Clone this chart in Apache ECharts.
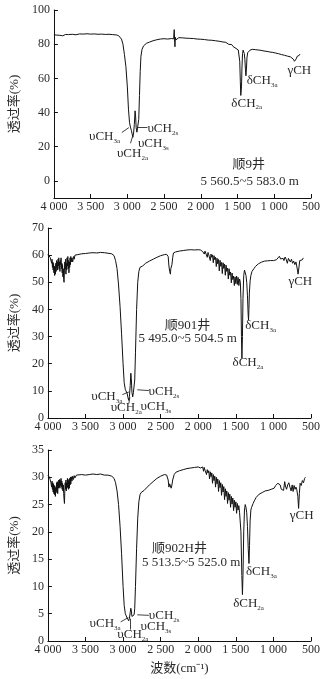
<!DOCTYPE html>
<html><head><meta charset="utf-8">
<script src="https://cdn.jsdelivr.net/npm/echarts@6/dist/echarts.min.js"></script>
<style>html,body{margin:0;padding:0;background:#fff}#c{width:327px;height:679px}</style>
</head><body><div id="c"></div>
<script>
// ---- data: [wavenumber cm-1, transmittance %] ----
const spectrum1 = [[4000,85.5],[3980,85.8],[3960,85.3],[3940,85.6],[3920,85.2],[3900,85.4],[3880,84.9],[3860,85.5],[3840,85.7],[3820,85.3],[3800,85.6],[3750,85.8],[3700,85.5],[3650,86.0],[3600,85.9],[3550,86.1],[3500,85.9],[3450,86.0],[3400,85.8],[3350,85.9],[3300,85.7],[3250,85.8],[3200,85.6],[3150,85.4],[3120,85.0],[3100,84.5],[3080,83.0],[3060,80.0],[3040,74.0],[3020,67.0],[3000,55.0],[2985,42.0],[2970,34.0],[2958,31.5],[2945,29.5],[2935,27.5],[2925,25.5],[2915,28.0],[2905,33.0],[2895,41.0],[2888,38.0],[2880,31.0],[2870,28.5],[2860,31.5],[2853,30.5],[2845,36.0],[2835,50.0],[2825,64.0],[2815,73.0],[2800,77.0],[2780,79.0],[2760,80.0],[2740,80.5],[2700,81.2],[2650,82.0],[2600,82.6],[2550,83.0],[2500,83.2],[2450,83.0],[2400,83.3],[2370,83.1],[2362,88.5],[2357,82.5],[2352,78.5],[2347,84.0],[2340,82.5],[2335,83.3],[2320,83.6],[2300,83.8],[2250,83.7],[2200,83.5],[2150,83.4],[2100,83.3],[2050,83.0],[2000,82.9],[1950,82.7],[1900,82.4],[1850,82.3],[1800,82.0],[1750,81.7],[1700,81.3],[1680,80.8],[1660,81.1],[1640,80.3],[1620,79.9],[1600,79.2],[1580,79.8],[1560,78.6],[1540,78.9],[1520,77.5],[1500,77.0],[1490,76.6],[1480,75.5],[1470,70.0],[1462,58.0],[1456,50.0],[1451,49.0],[1446,55.0],[1440,66.0],[1432,74.5],[1424,76.5],[1416,76.2],[1408,74.5],[1400,71.0],[1392,65.0],[1386,61.5],[1382,62.0],[1378,66.0],[1372,72.0],[1362,75.0],[1350,75.7],[1330,76.5],[1300,77.0],[1280,77.3],[1260,76.8],[1240,77.2],[1220,76.6],[1200,77.0],[1180,76.4],[1160,76.8],[1140,76.0],[1120,76.3],[1100,75.8],[1080,76.1],[1060,75.4],[1040,75.8],[1020,75.2],[1000,75.5],[980,74.8],[960,75.1],[940,74.4],[920,74.6],[900,73.9],[880,74.2],[860,73.5],[840,73.7],[820,73.0],[800,73.2],[780,72.6],[760,72.0],[740,71.2],[725,70.0],[712,69.0],[700,71.5],[690,72.8],[680,72.0],[670,73.8],[660,73.5],[650,74.2],[646,74.0]];

const spectrum2 = [[4000,60.3],[3990,59.8],[3980,60.0],[3970,59.2],[3960,58.5],[3950,57.0],[3945,58.5],[3940,55.5],[3935,57.5],[3930,54.5],[3925,57.0],[3920,53.5],[3915,56.0],[3910,52.5],[3905,55.5],[3900,53.0],[3895,57.0],[3890,54.0],[3885,58.0],[3880,55.5],[3875,57.5],[3870,54.5],[3865,58.5],[3860,56.0],[3855,59.0],[3850,55.0],[3845,57.5],[3840,54.0],[3835,58.0],[3830,56.5],[3825,59.0],[3820,55.0],[3815,57.0],[3810,53.5],[3805,56.5],[3800,52.0],[3795,55.0],[3790,51.0],[3785,50.0],[3780,54.5],[3775,57.5],[3770,55.0],[3765,58.5],[3760,53.0],[3755,57.0],[3750,54.5],[3745,59.0],[3740,56.0],[3735,59.5],[3730,55.0],[3725,58.0],[3720,53.5],[3715,57.5],[3710,55.5],[3705,59.0],[3700,56.5],[3695,59.5],[3690,57.5],[3680,59.0],[3670,57.5],[3660,59.5],[3650,58.5],[3640,60.0],[3620,59.5],[3600,60.2],[3580,60.0],[3550,60.5],[3500,60.6],[3450,60.8],[3400,60.9],[3350,60.8],[3300,61.0],[3250,60.9],[3200,60.7],[3150,60.5],[3120,59.8],[3100,58.0],[3080,55.0],[3060,49.0],[3040,41.0],[3020,31.0],[3000,20.0],[2985,13.0],[2970,10.5],[2958,10.0],[2945,9.0],[2935,7.5],[2925,6.5],[2915,8.0],[2905,12.0],[2897,16.5],[2890,14.5],[2882,9.5],[2872,7.8],[2862,9.5],[2853,10.0],[2845,14.0],[2835,24.0],[2820,40.0],[2805,50.0],[2790,54.0],[2775,55.5],[2760,55.8],[2740,56.0],[2720,56.5],[2700,57.0],[2650,57.8],[2600,58.5],[2550,59.2],[2500,59.8],[2450,60.2],[2420,60.3],[2400,59.5],[2390,56.0],[2380,54.0],[2370,53.0],[2365,55.0],[2360,54.5],[2350,56.5],[2340,59.0],[2330,60.8],[2300,61.2],[2250,61.5],[2200,61.7],[2150,61.9],[2100,62.0],[2050,61.9],[2000,62.0],[1980,61.6],[1970,61.9],[1960,61.2],[1950,61.8],[1940,61.3],[1930,61.7],[1920,60.4],[1910,61.5],[1900,60.8],[1890,61.3],[1880,59.2],[1870,61.0],[1860,60.1],[1850,60.6],[1840,58.0],[1830,60.4],[1820,59.2],[1810,60.1],[1800,57.2],[1790,59.8],[1780,58.3],[1770,59.2],[1760,55.8],[1750,58.9],[1740,56.8],[1730,58.4],[1720,54.2],[1710,58.1],[1700,55.9],[1690,57.3],[1680,53.2],[1670,57.2],[1660,55.1],[1650,56.7],[1640,52.6],[1630,56.3],[1620,54.0],[1610,55.2],[1600,51.2],[1590,55.0],[1580,52.6],[1570,53.8],[1560,49.8],[1550,53.4],[1540,51.0],[1530,52.3],[1520,48.8],[1510,52.0],[1500,49.5],[1490,52.3],[1480,49.2],[1470,51.8],[1460,48.8],[1450,51.2],[1440,50.0],[1432,44.0],[1425,30.0],[1419,22.0],[1412,30.0],[1405,44.0],[1395,52.5],[1385,54.5],[1375,54.0],[1365,52.5],[1355,50.0],[1345,45.0],[1336,38.0],[1331,36.0],[1326,40.0],[1320,46.0],[1310,50.5],[1300,52.5],[1285,54.0],[1260,55.0],[1240,55.8],[1220,56.3],[1200,56.8],[1180,57.0],[1160,57.4],[1140,57.2],[1120,57.8],[1100,57.5],[1080,57.9],[1060,57.6],[1040,58.0],[1020,57.8],[1000,58.0],[980,58.6],[960,58.3],[940,59.0],[920,59.6],[905,58.6],[895,59.3],[880,58.2],[870,58.8],[860,58.0],[845,59.3],[830,58.5],[815,57.0],[800,58.8],[790,59.3],[775,57.5],[760,58.5],[745,57.0],[730,57.8],[715,56.5],[700,57.5],[690,56.0],[680,54.5],[672,53.0],[665,52.8],[658,56.0],[650,58.0],[640,57.5],[630,58.5],[620,58.2],[610,58.8],[600,59.0],[593,59.0]];

const spectrum3 = [[4000,30.4],[3990,30.2],[3980,30.0],[3970,29.6],[3960,29.0],[3950,28.2],[3945,29.3],[3940,27.8],[3935,29.0],[3930,27.3],[3925,28.8],[3920,27.0],[3915,28.5],[3910,26.8],[3905,28.3],[3900,26.5],[3895,28.0],[3890,27.2],[3885,29.0],[3880,27.5],[3875,29.2],[3870,27.0],[3865,29.0],[3860,28.0],[3855,29.5],[3850,28.2],[3845,29.6],[3840,28.0],[3835,29.4],[3830,28.5],[3825,29.8],[3820,28.2],[3815,29.3],[3810,27.8],[3805,28.9],[3800,27.5],[3795,28.6],[3790,27.0],[3785,26.0],[3780,25.2],[3775,27.5],[3770,29.0],[3765,27.8],[3760,29.5],[3755,27.5],[3750,29.0],[3745,28.0],[3740,29.8],[3735,28.2],[3730,29.6],[3725,27.8],[3720,29.3],[3715,28.0],[3710,29.8],[3705,28.6],[3700,30.0],[3695,28.8],[3690,30.1],[3680,29.3],[3670,30.2],[3660,29.6],[3650,30.3],[3640,29.9],[3620,30.4],[3600,30.2],[3550,30.5],[3500,30.4],[3450,30.5],[3400,30.6],[3350,30.5],[3300,30.6],[3250,30.4],[3200,30.4],[3150,30.2],[3120,29.8],[3100,29.0],[3080,27.5],[3060,25.0],[3040,21.0],[3020,16.0],[3000,10.0],[2985,6.5],[2970,5.0],[2958,4.6],[2945,4.2],[2935,3.9],[2925,3.7],[2915,4.2],[2905,5.2],[2897,6.0],[2890,5.5],[2882,4.5],[2872,4.2],[2862,4.6],[2853,4.8],[2845,6.0],[2835,10.0],[2820,17.0],[2805,22.5],[2790,25.5],[2775,26.8],[2760,27.2],[2740,27.3],[2720,27.6],[2700,27.9],[2650,28.6],[2600,29.2],[2550,29.8],[2500,30.2],[2450,30.5],[2420,30.4],[2400,29.5],[2390,28.2],[2380,28.8],[2370,28.5],[2360,28.0],[2350,28.6],[2340,29.5],[2320,30.5],[2300,30.9],[2250,31.2],[2200,31.4],[2150,31.6],[2100,31.7],[2050,31.8],[2000,31.9],[1980,32.1],[1970,31.7],[1960,32.0],[1950,31.5],[1940,31.9],[1930,31.1],[1920,31.8],[1910,31.3],[1900,31.6],[1890,30.5],[1880,31.4],[1870,30.8],[1860,31.2],[1850,29.7],[1840,31.0],[1830,30.1],[1820,30.8],[1810,28.9],[1800,30.5],[1790,29.4],[1780,30.2],[1770,28.2],[1760,30.0],[1750,28.8],[1740,29.7],[1730,27.4],[1720,29.4],[1710,28.1],[1700,29.0],[1690,26.7],[1680,28.7],[1670,27.3],[1660,28.3],[1650,25.9],[1640,27.9],[1630,26.5],[1620,27.5],[1610,25.2],[1600,27.2],[1590,25.8],[1580,26.9],[1570,24.5],[1560,26.5],[1550,25.1],[1540,26.2],[1530,23.9],[1520,25.8],[1510,24.5],[1500,25.5],[1490,23.4],[1480,25.2],[1470,24.0],[1460,24.8],[1450,23.5],[1440,23.8],[1432,20.0],[1420,12.0],[1412,8.5],[1405,12.0],[1395,20.0],[1385,24.0],[1375,25.0],[1365,24.5],[1355,23.5],[1345,21.0],[1335,17.0],[1325,14.2],[1318,17.5],[1310,22.0],[1300,24.0],[1290,24.5],[1270,25.2],[1250,25.8],[1230,26.3],[1210,26.6],[1190,26.9],[1170,27.0],[1150,27.2],[1130,27.3],[1110,27.5],[1090,27.4],[1070,27.6],[1050,27.5],[1030,27.8],[1010,27.7],[990,28.0],[970,28.5],[955,28.3],[940,28.9],[925,29.1],[910,28.6],[895,27.8],[880,28.0],[865,27.6],[850,29.2],[840,28.4],[825,27.8],[810,28.6],[795,29.0],[780,28.2],[765,27.5],[750,28.6],[738,27.4],[725,28.5],[712,27.8],[700,28.2],[690,27.8],[675,26.5],[665,24.3],[655,27.0],[645,28.9],[630,28.5],[615,29.4],[600,29.0],[585,29.8],[575,30.0]];

const xTicks = [4000, 3500, 3000, 2500, 2000, 1500, 1000, 500];
const yTicks1 = [0, 20, 40, 60, 80, 100];
const wellNames = ['顺9井', '顺901井', '顺902H井'];
const depthRanges = ['5 560.5~5 583.0 m', '5 495.0~5 504.5 m', '5 513.5~5 525.0 m'];

// annotation placements [wavenumber, transmittance] per panel
const notes = [
  [ {t:'υCH', s:'3a', p:[3099,26], a:'right'}, {t:'υCH', s:'2a', p:[3142,15.8], a:'left'},
    {t:'υCH', s:'3s', p:[2856,21.6], a:'left'}, {t:'υCH', s:'2s', p:[2727,30.8], a:'left'},
    {t:'δCH', s:'2a', p:[1375,45.5], a:'center'}, {t:'δCH', s:'3a', p:[1375,58.5], a:'left'},
    {t:'γCH', s:'', p:[659,64.4], a:'center'} ],
  [ {t:'υCH', s:'3a', p:[3010,8.0], a:'right'}, {t:'υCH', s:'2a', p:[3165,3.9], a:'left'},
    {t:'υCH', s:'3s', p:[2767,4.3], a:'left'}, {t:'υCH', s:'2s', p:[2661,9.8], a:'left'},
    {t:'δCH', s:'2a', p:[1339,20.3], a:'center'}, {t:'δCH', s:'3a', p:[1375,34], a:'left'},
    {t:'γCH', s:'', p:[642,50.3], a:'center'} ],
  [ {t:'υCH', s:'3a', p:[3032,3.2], a:'right'}, {t:'υCH', s:'2a', p:[3076,1.2], a:'left'},
    {t:'υCH', s:'3s', p:[2767,2.6], a:'left'}, {t:'υCH', s:'2s', p:[2657,4.7], a:'left'},
    {t:'δCH', s:'2a', p:[1331,6.9], a:'center'}, {t:'δCH', s:'3a', p:[1365,12.7], a:'left'},
    {t:'γCH', s:'', p:[623,22.9], a:'center'} ]
];
const wellPos = [[[1349,9.4],[1335,-0.4]], [[2144,34],[2140,29.2]], [[2250,17.0],[2095,14.3]]];
const arrows = [
  [ [[3076,28.3],[2979,31.2]], [[2957,22.0],[2930,25.9]], [[2727,31.6],[2860,31.6]] ],
  [ [[3010,8.6],[2922,9.6]], [[2922,5.5],[2909,7.6]], [[2657,10.1],[2811,10.4]] ],
  [ [[3032,3.5],[2930,4.3]], [[2909,2.1],[2909,4.1]], [[2657,4.7],[2811,4.8]] ]
];

const SERIF = 'Liberation Serif, "Noto Sans CJK SC", serif';
const TXT = '#2a2a2a';
const grids = [
  {left:47, right:16, top:10, height:188},
  {left:47, right:16, top:228, height:190},
  {left:47, right:16, top:450, height:191}
];
function fmtX(v){ return v >= 1000 ? Math.floor(v/1000) + ' ' + String(v%1000).padStart(3,'0') : String(v); }

const xAxes = grids.map((g,i) => ({
  type:'value', gridIndex:i, inverse:true, min:500, max:4000, interval:500,
  axisLine:{show:true, onZero:false, lineStyle:{color:'#111', width:1}},
  axisTick:{show:true, inside:true, length:4, lineStyle:{color:'#111'}},
  splitLine:{show:false},
  axisLabel:{formatter:fmtX, color:TXT, fontFamily:SERIF, fontSize:12, margin:3, showMinLabel:true, showMaxLabel:true},
  name: i===2 ? '波数(cm⁻¹)' : '', nameLocation:'middle', nameGap:21,
  nameTextStyle:{color:TXT, fontFamily:SERIF, fontSize:13}
}));
const yCfg = [ {min:-10, max:100, custom:yTicks1}, {min:0, max:70, interval:10}, {min:0, max:35, interval:5} ];
const yAxes = yCfg.map((c,i) => {
  const ax = {
    type:'value', gridIndex:i, min:c.min, max:c.max,
    axisLine:{show:true, lineStyle:{color:'#111', width:1}},
    axisTick:{show:true, inside:true, length:4, lineStyle:{color:'#111'}},
    splitLine:{show:false},
    axisLabel:{color:TXT, fontFamily:SERIF, fontSize:12, margin:4},
    name:'透过率(%)', nameLocation:'middle', nameRotate:90, nameGap:25,
    nameTextStyle:{color:TXT, fontFamily:SERIF, fontSize:13}
  };
  if (c.custom) { ax.axisLabel.customValues = c.custom; ax.axisTick.customValues = c.custom; }
  else ax.interval = c.interval;
  return ax;
});

const richStyles = {
  m:{fontSize:13, fontFamily:SERIF, color:TXT, lineHeight:16},
  s:{fontSize:7, fontFamily:SERIF, color:TXT, lineHeight:8, verticalAlign:'bottom', padding:[6,0,0,0]},
  w:{fontSize:13, fontFamily:SERIF, color:TXT, lineHeight:15}
};
const spectra = [spectrum1, spectrum2, spectrum3];
const series = spectra.map((d,i) => ({
  type:'line', xAxisIndex:i, yAxisIndex:i, data:d, showSymbol:false, symbol:'none',
  lineStyle:{color:'#111', width:1}, clip:false, animation:false,
  markPoint:{
    symbol:'circle', symbolSize:0, animation:false, silent:true,
    data: notes[i].map(n => ({
      coord:n.p, value:0,
      label:{show:true, position:'inside', align:n.a, verticalAlign:'middle',
        formatter: n.s ? '{m|'+n.t+'}{s|'+n.s+'}' : '{m|'+n.t+'}', rich:richStyles}
    })).concat([
      {coord:wellPos[i][0], value:0, label:{show:true, position:'inside', align:'center', verticalAlign:'middle', formatter:'{w|'+wellNames[i]+'}', rich:richStyles}},
      {coord:wellPos[i][1], value:0, label:{show:true, position:'inside', align:'center', verticalAlign:'middle', formatter:'{w|'+depthRanges[i]+'}', rich:richStyles}}
    ])
  },
  markLine:{
    silent:true, animation:false, symbol:['none','arrow'], symbolSize:[0,5],
    lineStyle:{color:'#111', width:0.8, type:'solid'}, label:{show:false},
    data: arrows[i].map(a => [{coord:a[0]},{coord:a[1]}])
  }
}));

const chart = echarts.init(document.getElementById('c'), null, {renderer:'canvas'});
chart.setOption({ animation:false, grid:grids, xAxis:xAxes, yAxis:yAxes, series:series });
</script></body></html>
